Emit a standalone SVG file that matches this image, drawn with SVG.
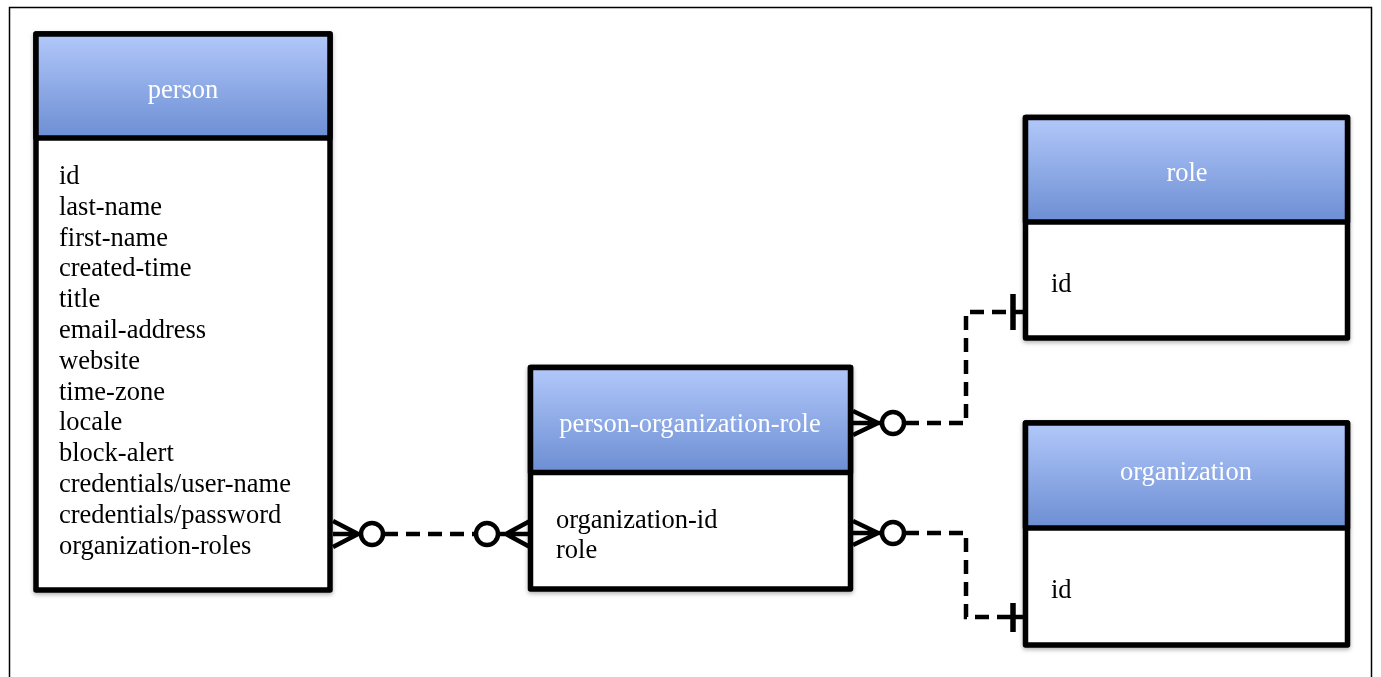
<svg xmlns="http://www.w3.org/2000/svg" width="1381" height="677" viewBox="0 0 1381 677">
<style>
.box{fill:#fff;stroke:#000;stroke-width:5.5;stroke-linejoin:round}
.hdr{fill:url(#hg);stroke:#000;stroke-width:5.5;stroke-linejoin:round}
.ht{font-family:"Liberation Serif",serif;font-size:26.5px;fill:#fff;text-anchor:middle}
.bt{font-family:"Liberation Serif",serif;font-size:26.5px;fill:#000}
.con{fill:none;stroke:#000;stroke-width:4.5}
.dash{fill:none;stroke:#000;stroke-width:4.5;stroke-dasharray:14 8}
.circ{fill:#fff;stroke:#000;stroke-width:4.5}
</style>
<defs>
<linearGradient id="hg" x1="0" y1="0" x2="0" y2="1">
<stop offset="0" stop-color="#b2c8fa"/>
<stop offset="1" stop-color="#6c8ed3"/>
</linearGradient>
<filter id="sh" x="-5%" y="-5%" width="110%" height="110%">
<feDropShadow dx="0" dy="2" stdDeviation="2" flood-color="#000" flood-opacity="0.3"/>
</filter>
</defs>
<rect x="0" y="0" width="1381" height="677" fill="#fff"/>
<rect x="9.5" y="7.5" width="1362" height="690" fill="none" stroke="#000" stroke-width="1.5"/>

<g id="connectors">
<!-- person to POR -->
<path class="con" d="M333 521 L358 534 M333 534 L360 534 M333 547 L358 534"/>
<path class="dash" d="M384 534 L475 534"/>
<circle class="circ" cx="372" cy="534" r="11"/>
<path class="con" d="M530 521 L506 534 M530 534 L498 534 M530 547 L506 534"/>
<circle class="circ" cx="487" cy="534" r="11"/>
<!-- POR to role -->
<path class="con" d="M853 411 L878 423 M853 423 L882 423 M853 435 L878 423"/>
<circle class="circ" cx="893" cy="423" r="11"/>
<path class="dash" d="M905 423 L966 423 L966 312 L1012 312"/>
<path class="con" d="M1012 312 L1023 312"/>
<path d="M1013 294 L1013 330" stroke="#000" stroke-width="5.5"/>
<!-- POR to organization -->
<path class="con" d="M853 521 L878 533 M853 533 L882 533 M853 545 L878 533"/>
<circle class="circ" cx="893" cy="533" r="11"/>
<path class="dash" d="M905 533 L966 533 L966 617 L1012 617"/>
<path class="con" d="M1012 617 L1023 617"/>
<path d="M1013 603 L1013 632" stroke="#000" stroke-width="5.5"/>
</g>

<g id="person" filter="url(#sh)">
<rect class="box" x="36" y="34" width="294" height="556"/>
<rect class="hdr" x="36" y="34" width="294" height="104"/>
<text class="ht" x="183" y="98">person</text>
<text class="bt" x="59" y="184">id</text>
<text class="bt" x="59" y="215">last-name</text>
<text class="bt" x="59" y="246">first-name</text>
<text class="bt" x="59" y="276">created-time</text>
<text class="bt" x="59" y="307">title</text>
<text class="bt" x="59" y="338">email-address</text>
<text class="bt" x="59" y="369">website</text>
<text class="bt" x="59" y="400">time-zone</text>
<text class="bt" x="59" y="430">locale</text>
<text class="bt" x="59" y="461">block-alert</text>
<text class="bt" x="59" y="492">credentials/user-name</text>
<text class="bt" x="59" y="523">credentials/password</text>
<text class="bt" x="59" y="554">organization-roles</text>
</g>

<g id="person-organization-role" filter="url(#sh)">
<rect class="box" x="530.5" y="367.5" width="320" height="221.5"/>
<rect class="hdr" x="530.5" y="367.5" width="320" height="105"/>
<text class="ht" x="690" y="432">person-organization-role</text>
<text class="bt" x="556" y="528">organization-id</text>
<text class="bt" x="556" y="558">role</text>
</g>

<g id="role" filter="url(#sh)">
<rect class="box" x="1025.5" y="117.5" width="322" height="220.5"/>
<rect class="hdr" x="1025.5" y="117.5" width="322" height="104.5"/>
<text class="ht" x="1187" y="181">role</text>
<text class="bt" x="1051" y="292">id</text>
</g>

<g id="organization" filter="url(#sh)">
<rect class="box" x="1025.5" y="423" width="322" height="222"/>
<rect class="hdr" x="1025.5" y="423" width="322" height="105"/>
<text class="ht" x="1186" y="480">organization</text>
<text class="bt" x="1051" y="598">id</text>
</g>
</svg>
